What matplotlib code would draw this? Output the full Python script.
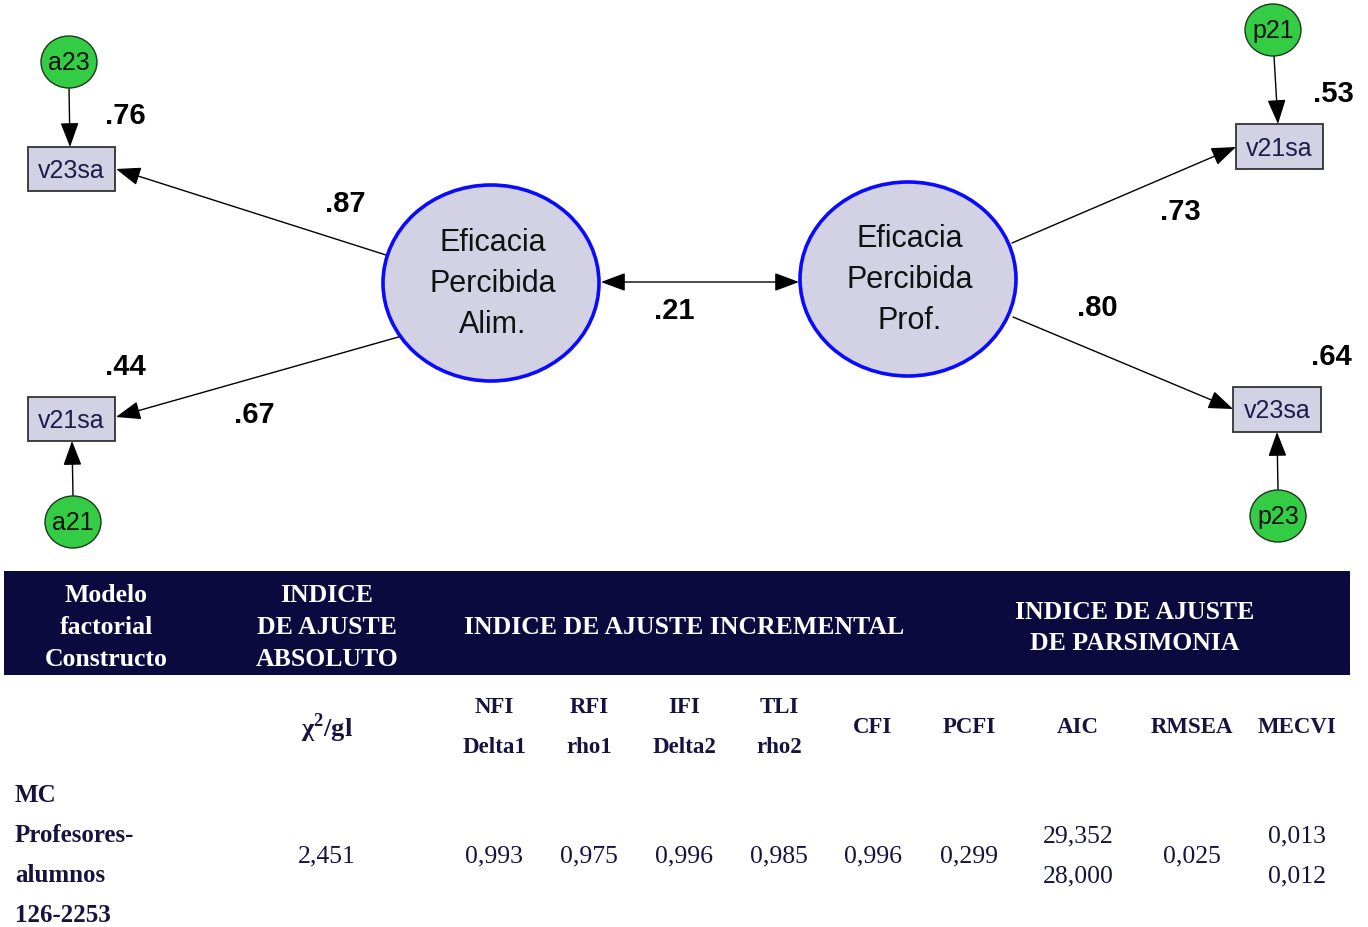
'''
Path diagram (CFA) with fit index table underneath.
'''

import matplotlib.pyplot as plt
from matplotlib.patches import Ellipse, Rectangle, FancyArrowPatch

# ---- data ----
latents = ['Eficacia\nPercibida\nAlim.', 'Eficacia\nPercibida\nProf.']
observed = ['v23sa', 'v21sa', 'v21sa', 'v23sa']
errors = ['a23', 'a21', 'p21', 'p23']
loadings = ['.87', '.67', '.73', '.80']
r_squared = ['.76', '.44', '.53', '.64']
correlation = '.21'

header_groups = ['Modelo\nfactorial\nConstructo', 'INDICE\nDE AJUSTE\nABSOLUTO',
                 'INDICE DE AJUSTE INCREMENTAL', 'INDICE DE AJUSTE\nDE PARSIMONIA']
index_names = ['χ$^{\\mathbf{2}}$/gl', 'NFI\nDelta1', 'RFI\nrho1', 'IFI\nDelta2', 'TLI\nrho2',
               'CFI', 'PCFI', 'AIC', 'RMSEA', 'MECVI']
row_label = 'MC\nProfesores-\nalumnos\n126-2253'
row_values = ['2,451', '0,993', '0,975', '0,996', '0,985', '0,996', '0,299',
              '29,352\n28,000', '0,025', '0,013\n0,012']

# ---- layout (pixels) ----
latent_pos = [(491, 284, 216, 196), (908, 280, 216, 194)]
box_pos = [(28, 148, 87, 44), (28, 398, 87, 44), (1236, 125, 87, 45), (1233, 388, 88, 45)]
err_pos = [(69, 63), (73, 523), (1273, 31), (1278, 517)]
load_lines = [((386, 256), (116, 170)), ((402, 337), (116, 418)),
              ((1012, 244), (1236, 148)), ((1013, 318), (1233, 410))]
err_lines = [((69, 89), (70, 148)), ((73, 497), (72, 442)),
             ((1274, 57), (1278, 125)), ((1278, 491), (1277, 433))]
load_lbl = [(345, 204), (254, 415), (1180, 212), (1097, 308)]
r2_lbl = [(125, 116), (125, 367), (1333, 94), (1331, 357)]
col_x = [327, 494, 589, 684, 779, 873, 969, 1078, 1192, 1297]
header_x = [106, 327, 684, 1135]

navy = '#0b0a3e'
text_navy = '#16143f'
sans = 'Liberation Sans'
serif = 'Liberation Serif'

plt.rcParams['mathtext.fontset'] = 'custom'
plt.rcParams['mathtext.bf'] = 'Liberation Serif:bold'
plt.rcParams['mathtext.rm'] = 'Liberation Serif:bold'

fig = plt.figure(figsize=(13.68, 9.28), dpi=100)
ax = fig.add_axes([0, 0, 1, 1])
ax.set_xlim(0, 1368)
ax.set_ylim(928, 0)
ax.axis('off')


def arrow(p0, p1, style='-|>,head_length=0.8,head_width=0.3'):
    ax.add_patch(FancyArrowPatch(p0, p1, arrowstyle=style, mutation_scale=19,
                                 color='black', lw=1.0, shrinkA=0, shrinkB=0,
                                 zorder=2))


def stacked(x, y, txt, step, **kw):
    # place multiline text with a fixed pixel step between lines
    lines = txt.split('\n')
    y0 = y - step * (len(lines) - 1) / 2
    for i, line in enumerate(lines):
        ax.text(x, y0 + i * step, line, va='center', **kw)


# latent variables
for (cx, cy, w, h), name in zip(latent_pos, latents):
    ax.add_patch(Ellipse((cx, cy), w, h, facecolor='#d3d2e4', edgecolor='#0a0aff',
                         lw=2.6, zorder=3))
    stacked(cx + 2, cy, name, 41, ha='center', fontsize=22, family=sans,
            color='#111111', zorder=4)

# observed boxes
for (x, y, w, h), name in zip(box_pos, observed):
    ax.add_patch(Rectangle((x, y), w, h, facecolor='#d3d2e4', edgecolor='#333333',
                           lw=1.3, zorder=3))
    ax.text(x + w / 2, y + h / 2 + 1, name, ha='center', va='center', fontsize=18,
            family=sans, color='#1c1c48', zorder=4)

# error terms
for (cx, cy), name in zip(err_pos, errors):
    ax.add_patch(Ellipse((cx, cy), 56, 52, facecolor='#33cc44', edgecolor='#1a3a1a',
                         lw=1.0, zorder=3))
    ax.text(cx, cy, name, ha='center', va='center', fontsize=18, family=sans,
            color='#111111', zorder=4)

for p0, p1 in load_lines + err_lines:
    arrow(p0, p1)
arrow((601, 283), (799, 283), style='<|-|>,head_length=0.8,head_width=0.3')

for (x, y), lbl in zip(load_lbl + r2_lbl, loadings + r_squared):
    ax.text(x, y, lbl, ha='center', va='center', fontsize=21, fontweight='bold',
            family=sans, color='black')
ax.text(674, 311, correlation, ha='center', va='center', fontsize=21,
        fontweight='bold', family=sans, color='black')

# ---- table ----
ax.add_patch(Rectangle((4, 572), 1346, 104, facecolor=navy, edgecolor='none'))
for x, txt in zip(header_x, header_groups):
    step = 31 if txt.count('\n') == 1 else 32
    stacked(x, 628, txt, step, ha='center', fontsize=18.5, fontweight='bold',
            family=serif, color='white')

for x, txt in zip(col_x, index_names):
    size = 19 if x == col_x[0] else 16.5
    stacked(x, 728, txt, 40, ha='center', fontsize=size, fontweight='bold',
            family=serif, color=text_navy)

stacked(15, 856, row_label, 40, ha='left', fontsize=18, fontweight='bold',
        family=serif, color=text_navy)
for x, txt in zip(col_x, row_values):
    stacked(x, 856, txt, 40, ha='center', fontsize=18.5, family=serif,
            color=text_navy)

fig.savefig('out.png', dpi=100)
